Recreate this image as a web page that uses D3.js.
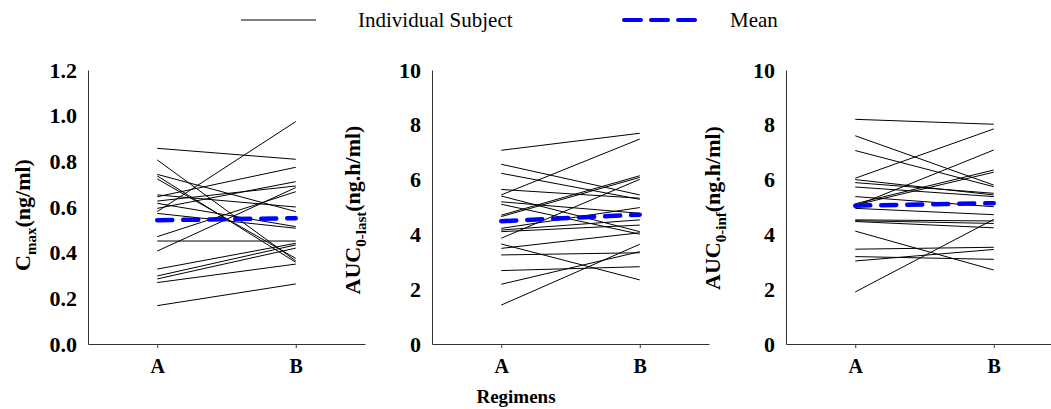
<!DOCTYPE html>
<html>
<head>
<meta charset="utf-8">
<script src="https://cdn.jsdelivr.net/npm/d3@7"></script>
<style>
  body { margin: 0; background: #fff; }
  svg { display: block; }
  text { font-family: "Liberation Serif", "Times New Roman", serif; }
</style>
</head>
<body>
<div id="chart"></div>
<script>
// regimens on the x axis
const regimens = ["A", "B"];

// Cmax (ng/ml), one entry per subject
const cmaxA = [0.857, 0.806, 0.743, 0.736, 0.723, 0.653, 0.645, 0.626, 0.616, 0.594, 0.58, 0.572, 0.47, 0.451, 0.407, 0.328, 0.298, 0.285, 0.269, 0.168];
const cmaxB = [0.809, 0.364, 0.58, 0.358, 0.375, 0.60, 0.774, 0.692, 0.514, 0.711, 0.974, 0.507, 0.667, 0.451, 0.685, 0.441, 0.434, 0.42, 0.35, 0.263];
const cmaxMean = [0.542, 0.551];

// AUC0-last (ng.h/ml)
const auclA = [7.07, 6.56, 6.23, 5.64, 5.44, 5.40, 5.19, 5.10, 4.70, 4.65, 4.22, 4.16, 4.10, 3.86, 3.65, 3.49, 3.25, 2.68, 2.18, 1.42];
const auclB = [7.69, 5.44, 5.28, 5.32, 7.48, 4.10, 4.77, 4.01, 6.14, 6.08, 4.98, 4.53, 4.34, 6.01, 2.34, 4.06, 3.33, 2.82, 3.37, 3.64];
const auclMean = [4.48, 4.72];

// AUC0-inf (ng.h/ml)
const auciA = [8.20, 7.60, 7.06, 6.05, 6.00, 5.89, 5.73, 5.38, 5.12, 5.07, 5.04, 4.95, 4.53, 4.50, 4.47, 4.12, 3.46, 3.19, 3.03, 1.90];
const auciB = [8.02, 5.80, 5.74, 7.85, 5.44, 5.50, 5.38, 5.01, 6.35, 6.27, 7.08, 4.72, 4.49, 4.40, 4.24, 2.70, 3.53, 3.09, 3.45, 4.55];
const auciMean = [5.05, 5.14];

const cmaxTicks = [0, 0.2, 0.4, 0.6, 0.8, 1.0, 1.2];
const aucTicks = [0, 2, 4, 6, 8, 10];

const width = 1051;
const height = 409;
const blue = "#0000ff";
const serif = "'Liberation Serif', 'Times New Roman', serif";

const svg = d3.select("#chart").append("svg")
    .attr("width", width)
    .attr("height", height);

// panel geometry
const plotTop = 70, plotBottom = 344, panelW = 277;
const panels = [
    { left: 88,  a: cmaxA, b: cmaxB, mean: cmaxMean, max: 1.2, ticks: cmaxTicks, fmt: d3.format(".1f"), name: "C",   sub: "max",    unit: "(ng/ml)",   titleX: 30,  titleY: 215 },
    { left: 432, a: auclA, b: auclB, mean: auclMean, max: 10,  ticks: aucTicks,  fmt: d3.format("d"),   name: "AUC", sub: "0-last", unit: "(ng.h/ml)", titleX: 360, titleY: 210 },
    { left: 786, a: auciA, b: auciB, mean: auciMean, max: 10,  ticks: aucTicks,  fmt: d3.format("d"),   name: "AUC", sub: "0-inf",  unit: "(ng.h/ml)", titleX: 720, titleY: 208 }
];

panels.forEach(p => {
    const x = d3.scalePoint().domain(regimens).range([p.left, p.left + panelW]).padding(0.5);
    const y = d3.scaleLinear().domain([0, p.max]).range([plotBottom, plotTop]);
    const g = svg.append("g");

    // subject lines
    const line = d3.line().x((d, k) => x(regimens[k])).y(d => y(d));
    g.selectAll(".subj")
        .data(p.a.map((v, k) => [v, p.b[k]]))
        .enter().append("path")
        .attr("class", "subj")
        .attr("d", line)
        .attr("fill", "none")
        .attr("stroke", "#000")
        .attr("stroke-width", 1);

    // mean line
    g.append("path")
        .attr("d", line(p.mean))
        .attr("fill", "none")
        .attr("stroke", blue)
        .attr("stroke-width", 4.5)
        .attr("stroke-linecap", "round")
        .attr("stroke-dasharray", "15,11");

    // y axis
    const yAxis = g.append("g")
        .attr("transform", `translate(${p.left},0)`)
        .call(d3.axisLeft(y).tickValues(p.ticks).tickFormat(p.fmt).tickSize(0).tickPadding(11));
    yAxis.select(".domain").attr("stroke", "#333");
    yAxis.selectAll("text")
        .style("font-size", "22px").style("font-weight", "bold")
        .style("font-family", serif).attr("fill", "#000");

    // x axis
    const xAxis = g.append("g")
        .attr("transform", `translate(0,${plotBottom})`)
        .call(d3.axisBottom(x).tickSizeInner(4).tickSizeOuter(0).tickPadding(11));
    xAxis.select(".domain").attr("stroke", "#333");
    xAxis.selectAll("line").attr("stroke", "#333");
    xAxis.selectAll("text")
        .style("font-size", "20px").style("font-weight", "bold")
        .style("font-family", serif).attr("fill", "#000");

    // y title
    const t = svg.append("text")
        .attr("transform", `translate(${p.titleX},${p.titleY}) rotate(-90)`)
        .attr("text-anchor", "middle")
        .style("font-size", "22px")
        .style("font-weight", "bold")
        .style("font-family", serif);
    t.append("tspan").text(p.name);
    t.append("tspan").style("font-size", "15px").attr("dy", 6).text(p.sub);
    t.append("tspan").attr("dy", -6).text(p.unit);
});

// x title
svg.append("text")
    .attr("x", 516).attr("y", 403)
    .attr("text-anchor", "middle")
    .style("font-size", "19px").style("font-weight", "bold")
    .style("font-family", serif)
    .text("Regimens");

// legend
svg.append("line")
    .attr("x1", 241).attr("x2", 316).attr("y1", 20).attr("y2", 20)
    .attr("stroke", "#000").attr("stroke-width", 1);
svg.append("text")
    .attr("x", 358).attr("y", 27)
    .style("font-size", "21px")
    .style("font-family", serif)
    .text("Individual Subject");
svg.append("line")
    .attr("x1", 624).attr("x2", 695).attr("y1", 20).attr("y2", 20)
    .attr("stroke", blue).attr("stroke-width", 4)
    .attr("stroke-linecap", "round")
    .attr("stroke-dasharray", "17,10");
svg.append("text")
    .attr("x", 730).attr("y", 27)
    .style("font-size", "21px")
    .style("font-family", serif)
    .text("Mean");
</script>
</body>
</html>
